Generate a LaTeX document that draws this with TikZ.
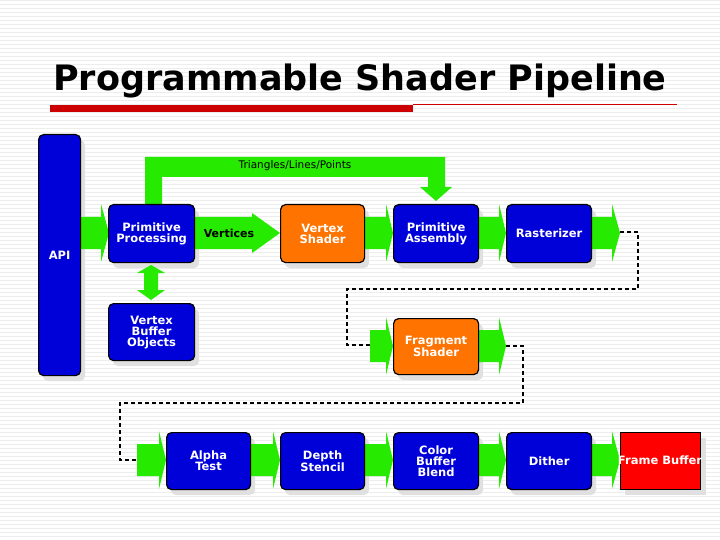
\documentclass[tikz,border=0pt]{standalone}
\usepackage{fontspec}
\setmainfont{DejaVu Sans}
\begin{document}
\begin{tikzpicture}[x=1pt,y=-1pt,
  boxbase/.style={draw=black,line width=1.2pt,rounded corners=5pt,anchor=north west,inner sep=0pt,
    text=white,font=\bfseries\fontsize{11.5}{11}\selectfont,align=center},
  bluebox/.style={boxbase,fill=blue!85!black},
  orangebox/.style={boxbase,fill=orange!90!red},
  shadowbox/.style={fill=black!12,rounded corners=5pt},
  garrow/.style={fill=green!90!black!80!lime},
  dashline/.style={draw=black,line width=1.1pt,dash pattern=on 4pt off 3pt}]
\useasboundingbox (0,0) rectangle (720,540);
\fill[white] (0,0) rectangle (720,540);
\foreach \y in {0,4,...,540} \draw[black!7,line width=0.6pt] (0,\y) -- (720,\y);
% title
\node[anchor=west,inner sep=0pt,font=\bfseries\fontsize{35}{35}\selectfont,text=black] (title) at (53,81) {Programmable Shader Pipeline};
\fill[red!80!black] (50,105) rectangle (413,112);
\draw[red!80!black,line width=0.6pt] (413,104) -- (677,104);
% shadows
\foreach \a/\b/\c/\d in {38/134/80/375,108/204/194/262,280/204/364/262,393/204/478/262,506/204/591/262,108/303/194/360,393/318/478/374,166/432/250/489,280/432/364/489,393/432/478/489,506/432/591/489}
  \fill[shadowbox] (\a+5,\b+6) rectangle (\c+5,\d+6);
\fill[black!12] (625,438) rectangle (706,495);
% green arrows: shaft start, head base, tip, center y, shaft half, head half
\newcommand{\garr}[6]{\fill[garrow] (#1,#4-#5) -- (#2,#4-#5) -- (#2,#4-#6) -- (#3,#4) -- (#2,#4+#6) -- (#2,#4+#5) -- (#1,#4+#5) -- cycle;}
\garr{80}{101}{109}{233}{16}{29}
\garr{194}{252}{280}{233}{16}{20}
\garr{364}{386}{393}{233}{16}{29}
\garr{478}{499}{506}{233}{16}{29}
\garr{591}{612}{620}{233}{16}{29}
\garr{370}{386}{393}{346}{16}{29}
\garr{478}{499}{506}{346}{16}{29}
\garr{137}{159}{166}{460}{16}{29}
\garr{250}{273}{280}{460}{16}{29}
\garr{364}{386}{393}{460}{16}{29}
\garr{478}{499}{506}{460}{16}{29}
\garr{591}{612}{620}{460}{16}{29}
% triangles/lines/points path
\fill[garrow] (145,204) -- (145,157) -- (445,157) -- (445,187) -- (452,187) -- (436,201) -- (420,187) -- (428,187) -- (428,177) -- (162,177) -- (162,204) -- cycle;
\node[font=\fontsize{10.5}{10.5}\selectfont] (tlp) at (295,166) {Triangles/Lines/Points};
% double arrow PP <-> VBO
\fill[garrow] (151,265) -- (165,273) -- (158,273) -- (158,290) -- (165,290) -- (151,300) -- (137,290) -- (144,290) -- (144,273) -- (137,273) -- cycle;
% dashed connectors
\draw[dashline] (620,232) -- (638,232) -- (638,289) -- (347,289) -- (347,345) -- (370,345);
\draw[dashline] (506,346) -- (523,346) -- (523,403) -- (120,403) -- (120,460) -- (137,460);
% boxes
\node[bluebox,minimum width=42pt,minimum height=241pt] (api) at (38,134) {API};
\node[bluebox,minimum width=86pt,minimum height=58pt] (pp) at (108,204) {Primitive\\Processing};
\node[orangebox,minimum width=84pt,minimum height=58pt] (vs) at (280,204) {Vertex\\Shader};
\node[bluebox,minimum width=85pt,minimum height=58pt] (pa) at (393,204) {Primitive\\Assembly};
\node[bluebox,minimum width=85pt,minimum height=58pt] (ra) at (506,204) {Rasterizer};
\node[bluebox,minimum width=86pt,minimum height=57pt] (vbo) at (108,303) {Vertex\\Buffer\\Objects};
\node[orangebox,minimum width=85pt,minimum height=56pt] (fs) at (393,318) {Fragment\\Shader};
\node[bluebox,minimum width=84pt,minimum height=57pt] (at) at (166,432) {Alpha\\Test};
\node[bluebox,minimum width=84pt,minimum height=57pt] (ds) at (280,432) {Depth\\Stencil};
\node[bluebox,minimum width=85pt,minimum height=57pt] (cb) at (393,432) {Color\\Buffer\\Blend};
\node[bluebox,minimum width=85pt,minimum height=57pt] (di) at (506,432) {Dither};
\node[boxbase,rounded corners=0pt,fill=red,minimum width=80pt,minimum height=57pt] (fb) at (620,432) {};
\node[text=white,font=\bfseries\fontsize{11.5}{11}\selectfont] (fbt) at (660,460) {Frame Buffer};
\node[font=\bfseries\fontsize{11}{11}\selectfont,text=black] (vert) at (229,233) {Vertices};
\end{tikzpicture}
\end{document}
